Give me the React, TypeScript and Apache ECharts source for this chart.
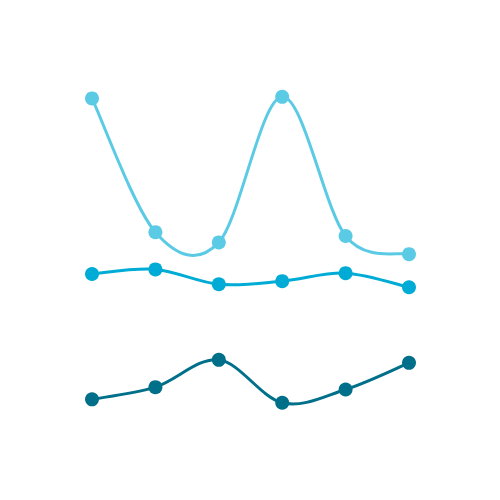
import React, { useEffect, useRef } from "react";
import * as echarts from "echarts";

const categories = ["A", "B", "C", "D", "E", "F"];
const seriesLight = [89.9, 54.7, 52.0, 90.3, 53.7, 48.9];
const seriesMid = [43.7, 44.9, 41.0, 41.8, 43.9, 40.2];
const seriesDark = [10.7, 13.9, 21.1, 9.8, 13.3, 20.3];
const colors = ["#5bcbe5", "#00acd6", "#006f8a"];

function curveSeries(name: string, values: number[], color: string) {
  return {
    name: name + " line",
    type: "custom",
    z: 2,
    data: values.map((v, i) => [i, v]),
    encode: { x: 0, y: 1 },
    renderItem: (params: any, api: any) => {
      if (params.dataIndex !== 0) return null;
      const pts = values.map((v, i) => api.coord([i, v]));
      const n = pts.length;
      const children: any[] = [];
      for (let i = 0; i < n - 1; i++) {
        const p0 = pts[Math.max(i - 1, 0)];
        const p1 = pts[i];
        const p2 = pts[i + 1];
        const p3 = pts[Math.min(i + 2, n - 1)];
        const cp1x = p1[0] + (p2[0] - p0[0]) / 6;
        const cp1y = p1[1] + (p2[1] - p0[1]) / 6;
        const cp2x = p2[0] - (p3[0] - p1[0]) / 6;
        const cp2y = p2[1] - (p3[1] - p1[1]) / 6;
        children.push({
          type: "bezierCurve",
          shape: {
            x1: p1[0], y1: p1[1], x2: p2[0], y2: p2[1],
            cpx1: cp1x, cpy1: cp1y, cpx2: cp2x, cpy2: cp2y,
          },
          style: { stroke: color, lineWidth: 3, fill: "none" },
        });
      }
      return { type: "group", children };
    },
  };
}

function pointSeries(name: string, values: number[], color: string) {
  return {
    name,
    type: "scatter",
    z: 3,
    data: values.map((v, i) => [i, v]),
    symbol: "circle",
    symbolSize: 14,
    itemStyle: { color, opacity: 1 },
  };
}

export default function App() {
  const ref = useRef<HTMLDivElement>(null);
  useEffect(() => {
    if (!ref.current) return;
    const chart = echarts.init(ref.current, null, { renderer: "svg" });
    chart.setOption({
      animation: false,
      grid: { left: 92, right: 91, top: 60, bottom: 60 },
      xAxis: {
        type: "category",
        data: categories,
        boundaryGap: false,
        show: false,
      },
      yAxis: { type: "value", min: 0, max: 100, show: false },
      series: [
        curveSeries("Series 1", seriesLight, colors[0]),
        curveSeries("Series 2", seriesMid, colors[1]),
        curveSeries("Series 3", seriesDark, colors[2]),
        pointSeries("Series 1", seriesLight, colors[0]),
        pointSeries("Series 2", seriesMid, colors[1]),
        pointSeries("Series 3", seriesDark, colors[2]),
      ],
    });
    return () => chart.dispose();
  }, []);
  return <div ref={ref} style={{ width: 500, height: 500, margin: -8 }} />;
}
